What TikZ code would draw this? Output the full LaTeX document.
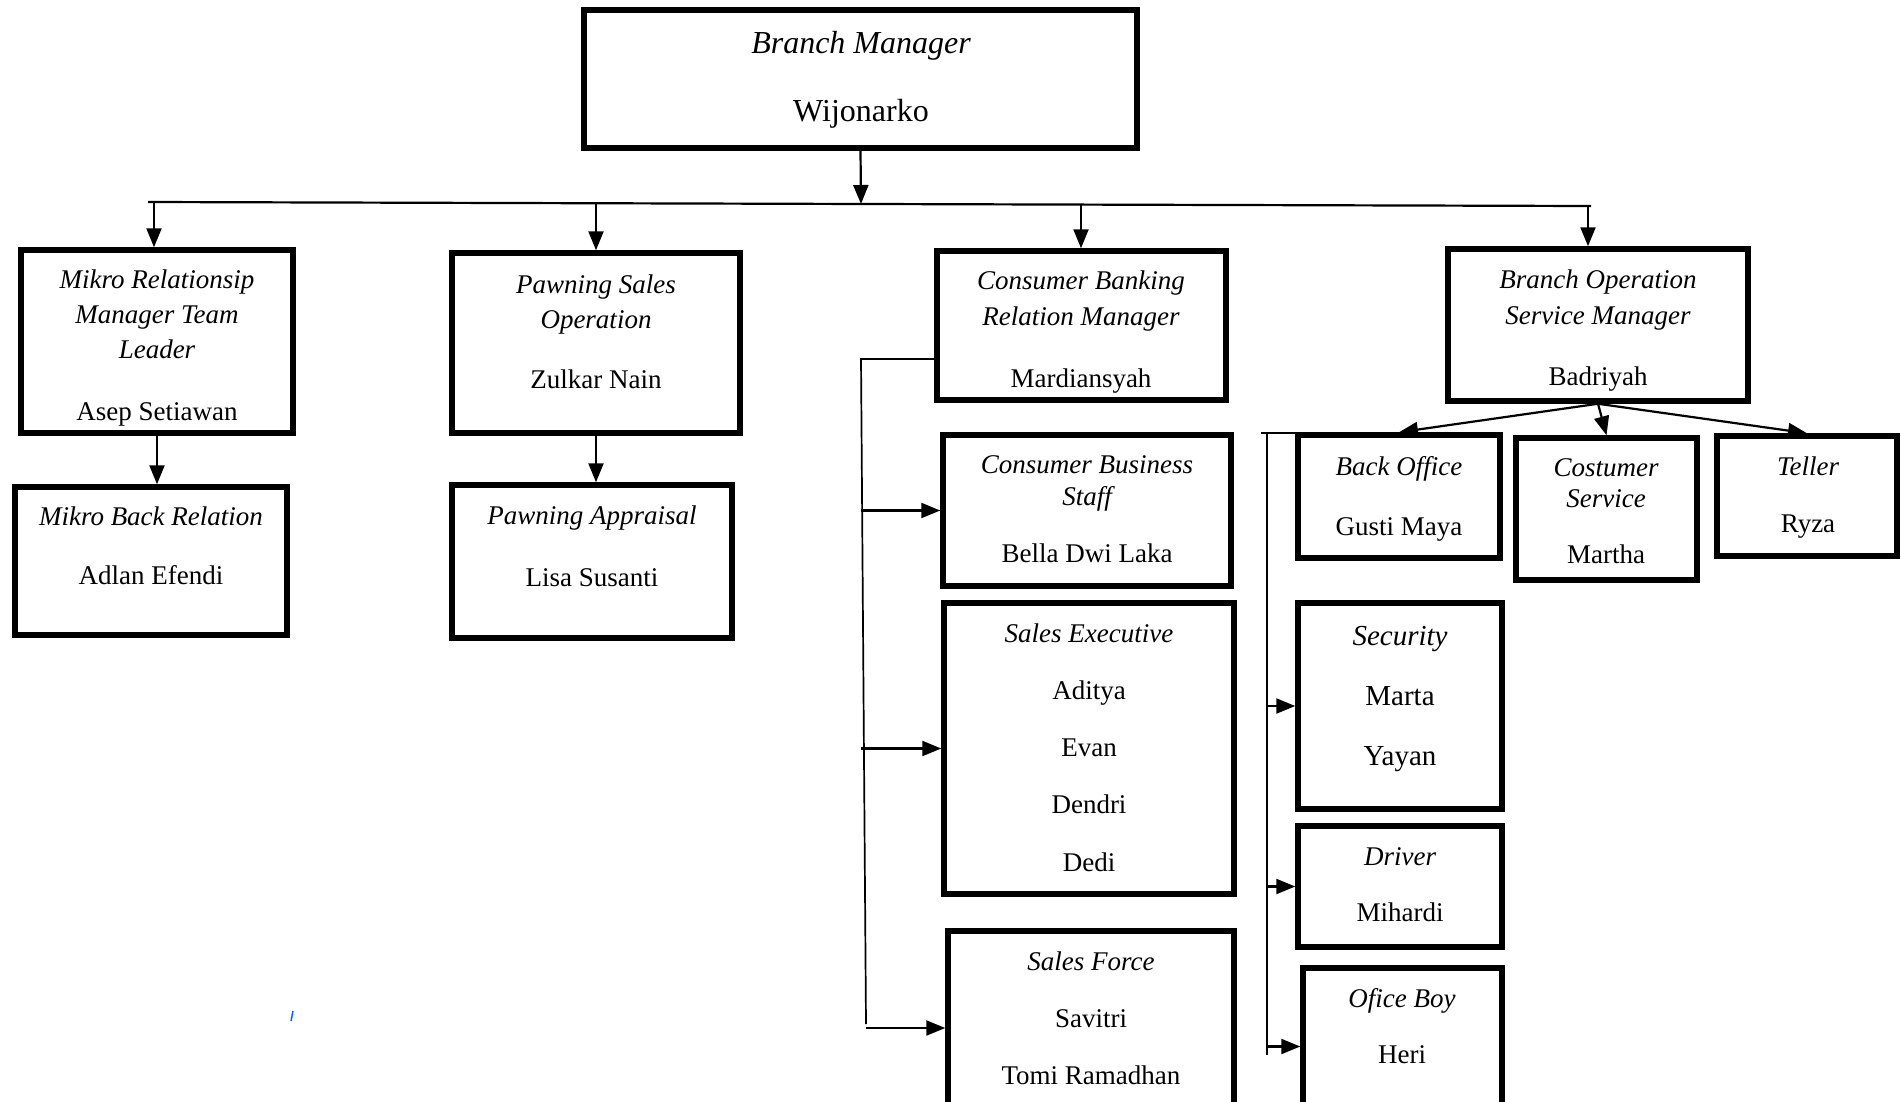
\documentclass[tikz,border=0pt]{standalone}
\usepackage{fontspec}
\setmainfont{Liberation Serif}
\usetikzlibrary{arrows.meta}
\tikzset{
  box/.style={draw, line width=5.5pt, inner sep=0pt},
  role/.style={anchor=base, font=\fontsize{27}{30}\selectfont\itshape},
  person/.style={anchor=base, font=\fontsize{27}{30}\selectfont},
  conn/.style={line width=2.2pt},
  thinconn/.style={line width=1.7pt},
  >={Triangle[length=19pt,width=15pt]}
}
\begin{document}
\begin{tikzpicture}[x=1pt,y=-1pt]
    \useasboundingbox (0,0) rectangle (1901,1101);
    \clip (0,0) rectangle (1901,1101);
    % top
    \node[box, minimum width=553pt, minimum height=138pt] (bm) at (860.5,79) {};
    \node[role, font=\fontsize{32}{36}\selectfont\itshape] (bm1) at (861,53) {Branch Manager};
    \node[person, font=\fontsize{32}{36}\selectfont] (bm2) at (861,121) {Wijonarko};
    % second row
    \node[box, minimum width=272pt, minimum height=183pt] (mikro) at (157,341.5) {};
    \node[role] (mikro1) at (157,288) {Mikro Relationsip};
    \node[role] (mikro2) at (157,323) {Manager Team};
    \node[role] (mikro3) at (157,358) {Leader};
    \node[person] (mikro4) at (157,420) {Asep Setiawan};
    \node[box, minimum width=288pt, minimum height=180pt] (pawn) at (596,343) {};
    \node[role] (pawn1) at (596,293) {Pawning Sales};
    \node[role] (pawn2) at (596,328) {Operation};
    \node[person] (pawn3) at (596,388) {Zulkar Nain};
    \node[box, minimum width=289pt, minimum height=149pt] (cbrm) at (1081.5,325.5) {};
    \node[role] (cbrm1) at (1081,289) {Consumer Banking};
    \node[role] (cbrm2) at (1081,325) {Relation Manager};
    \node[person] (cbrm3) at (1081,387) {Mardiansyah};
    \node[box, minimum width=300pt, minimum height=152pt] (bosm) at (1598,325) {};
    \node[role] (bosm1) at (1598,288) {Branch Operation};
    \node[role] (bosm2) at (1598,324) {Service Manager};
    \node[person] (bosm3) at (1598,385) {Badriyah};
    % third row
    \node[box, minimum width=272pt, minimum height=148pt] (mbr) at (151,561) {};
    \node[role] (mbr1) at (151,525) {Mikro Back Relation};
    \node[person] (mbr2) at (151,584) {Adlan Efendi};
    \node[box, minimum width=280pt, minimum height=153pt] (pa) at (592,561.5) {};
    \node[role] (pa1) at (592,524) {Pawning Appraisal};
    \node[person] (pa2) at (592,586) {Lisa Susanti};
    \node[box, minimum width=288pt, minimum height=151pt] (cbs) at (1087,510.5) {};
    \node[role] (cbs1) at (1087,473) {Consumer Business};
    \node[role] (cbs2) at (1087,505) {Staff};
    \node[person] (cbs3) at (1087,562) {Bella Dwi Laka};
    \node[box, minimum width=290pt, minimum height=291pt] (se) at (1089,748.5) {};
    \node[role] (se1) at (1089,642) {Sales Executive};
    \node[person] (se2) at (1089,699) {Aditya};
    \node[person] (se3) at (1089,756) {Evan};
    \node[person] (se4) at (1089,813) {Dendri};
    \node[person] (se5) at (1089,871) {Dedi};
    \node[box, minimum width=286pt, minimum height=194pt] (sf) at (1091,1028) {};
    \node[role] (sf1) at (1091,970) {Sales Force};
    \node[person] (sf2) at (1091,1027) {Savitri};
    \node[person] (sf3) at (1091,1084) {Tomi Ramadhan};
    \node[box, minimum width=202pt, minimum height=123pt] (bo) at (1399,496.5) {};
    \node[role] (bo1) at (1399,475) {Back Office};
    \node[person] (bo2) at (1399,535) {Gusti Maya};
    \node[box, minimum width=181pt, minimum height=142pt] (cs) at (1606.5,509) {};
    \node[role] (cs1) at (1606,476) {Costumer};
    \node[role] (cs2) at (1606,507) {Service};
    \node[person] (cs3) at (1606,563) {Martha};
    \node[box, minimum width=180pt, minimum height=120pt] (tel) at (1807,496) {};
    \node[role] (tel1) at (1808,475) {Teller};
    \node[person] (tel2) at (1808,532) {Ryza};
    \node[box, minimum width=204pt, minimum height=206pt] (sec) at (1400,706) {};
    \node[role, font=\fontsize{29}{32}\selectfont\itshape] (sec1) at (1400,645) {Security};
    \node[person, font=\fontsize{29}{32}\selectfont] (sec2) at (1400,705) {Marta};
    \node[person, font=\fontsize{29}{32}\selectfont] (sec3) at (1400,765) {Yayan};
    \node[box, minimum width=204pt, minimum height=121pt] (drv) at (1400,886.5) {};
    \node[role] (drv1) at (1400,865) {Driver};
    \node[person] (drv2) at (1400,921) {Mihardi};
    \node[box, minimum width=199pt, minimum height=157pt] (ob) at (1402.5,1046.5) {};
    \node[role] (ob1) at (1402,1007) {Ofice Boy};
    \node[person] (ob2) at (1402,1063) {Heri};
    % bus
    \coordinate (busL) at (148,202);
    \coordinate (busR) at (1591,206);
    \coordinate (busM) at (861,204);
    \coordinate (d1) at (154,203);
    \coordinate (d2) at (596,204);
    \coordinate (d3) at (1081,205);
    \coordinate (d4) at (1588,206);
    \draw [conn] (busL)--(busR);
    \draw [conn,->] (bm.south)--(busM);
    \draw [conn,->] (d1)--(d1 |- mikro.north);
    \draw [conn,->] (d2)--(d2 |- pawn.north);
    \draw [conn,->] (d3)--(d3 |- cbrm.north);
    \draw [conn,->] (d4)--(d4 |- bosm.north);
    \draw [conn,->] (mikro.south)--(mikro.south |- mbr.north);
    \draw [conn,->] (pawn.south)--(pawn.south |- pa.north);
    % consumer banking bracket
    \coordinate (lbT) at (861,359);
    \coordinate (lbB) at (866,1024);
    \draw [thinconn] (cbrm.west |- lbT)--(lbT)--(lbB);
    \draw [conn,->] (lbT |- cbs.west)--(cbs.west);
    \draw [conn,->] (lbT |- se.west)--(se.west);
    \draw [conn,->] (lbB |- sf.west)--(sf.west);
    % branch operation
    \draw [conn,->] (bosm.south)--(bo.north);
    \draw [conn,->] (bosm.south)--(cs.north);
    \draw [conn,->] (bosm.south)--(tel.north);
    \coordinate (rbL) at (1261,433);
    \coordinate (rbT) at (1267,433);
    \coordinate (rbB) at (1267,1055);
    \draw [thinconn] (rbL)--(bo.west |- rbL);
    \draw [thinconn] (rbT)--(rbB);
    \draw [conn,->] (rbT |- sec.west)--(sec.west);
    \draw [conn,->] (rbT |- drv.west)--(drv.west);
    \draw [conn,->] (rbT |- ob.west)--(ob.west);
    \draw [blue!60!cyan, line width=1.5pt] (291,1021)--(293,1011);
  \end{tikzpicture}
\end{document}
